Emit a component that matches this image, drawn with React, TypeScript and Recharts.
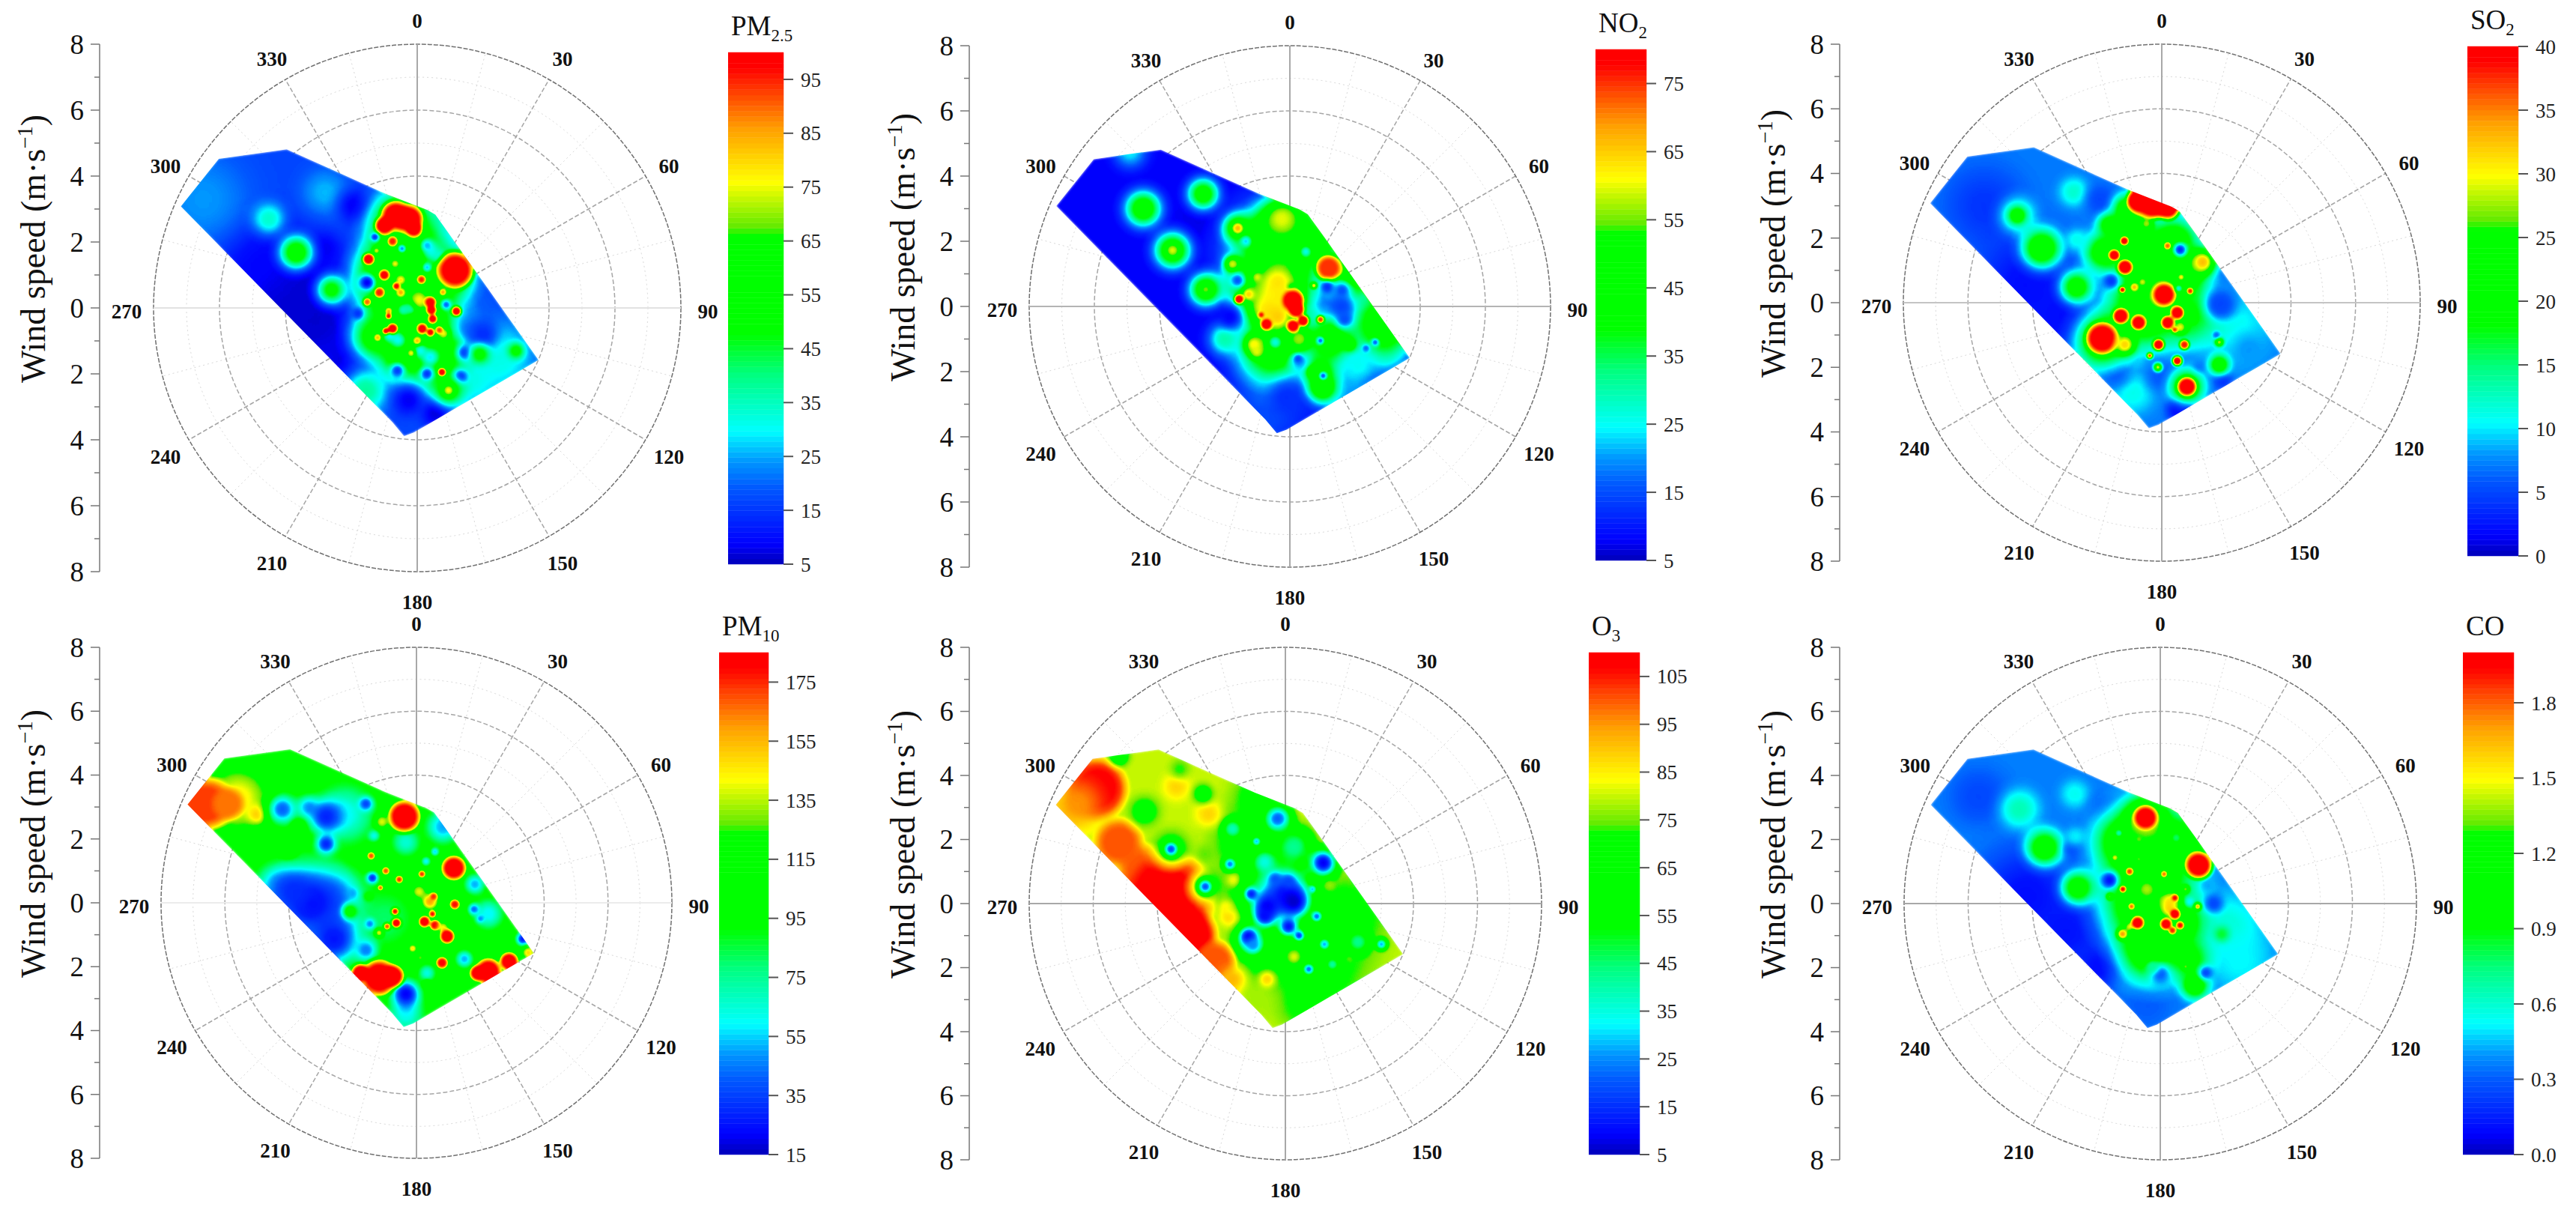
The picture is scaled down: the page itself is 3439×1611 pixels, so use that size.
import { Bar, BarChart, Line, LineChart, PolarAngleAxis, PolarGrid, PolarRadiusAxis, Radar, RadarChart, XAxis, YAxis } from "recharts";

type Cell = [number, number, number, number]; // east m/s, north m/s, concentration, reach m/s

const SERIF = '"Liberation Serif", "Times New Roman", serif';

const ANGLE_TICKS = [0, 30, 60, 90, 120, 150, 180, 210, 240, 270, 300, 330];
const SPEED_TICKS = [-8, -7, -6, -5, -4, -3, -2, -1, 0, 1, 2, 3, 4, 5, 6, 7, 8];
const MAJOR_RINGS = [2, 4, 6];
const MINOR_RINGS = [1, 3, 5, 7];
const MINOR_SPOKES = [15, 45, 75, 105, 135, 165, 195, 225, 255, 285, 315, 345];

// footprint of the sampled wind sectors, m/s
const EDGE_EAST = [-7.17, -6.02, -3.96, -0.95, 0.31, 0.55, 1.16, 3.68, -0.1, -0.4, -0.75];
const EDGE_NORTH = [3.08, 4.52, 4.81, 3.46, 2.97, 2.83, 1.98, -1.58, -3.78, -3.89, -3.47];

const COLOR_STOPS: [number, number, number, number][] = [
  [0, 0, 0, 185], [0.04, 0, 0, 255], [0.15, 0, 90, 255], [0.2, 0, 150, 255], [0.26, 0, 255, 255],
  [0.37, 0, 255, 128], [0.45, 0, 255, 0], [0.64, 0, 255, 0], [0.66, 100, 235, 0], [0.746, 255, 255, 0],
  [0.85, 255, 160, 0], [0.97, 255, 0, 0], [1, 255, 0, 0],
];

const PM25_TICKS = [5, 15, 25, 35, 45, 55, 65, 75, 85, 95];
const NO2_TICKS = [5, 15, 25, 35, 45, 55, 65, 75];
const SO2_TICKS = [0, 5, 10, 15, 20, 25, 30, 35, 40];
const PM10_TICKS = [15, 35, 55, 75, 95, 115, 135, 155, 175];
const O3_TICKS = [5, 15, 25, 35, 45, 55, 65, 75, 85, 95, 105];
const CO_TICKS = [0, 0.3, 0.6, 0.9, 1.2, 1.5, 1.8];

const PM25_CELLS: Cell[] = [
  [-3.9, 0.6, 6, 1.8], [-3.1, -0.4, 6, 1.5], [-2, -1.7, 7, 1.1], [-4.9, 1.5, 9, 1.1], [-6.5, 3.3, 24, 1.4],
  [-2.8, 3.5, 26, 0.7], [-4.5, 2.7, 34, 0.5], [-1.9, 3.1, 8, 0.5], [-2.8, 1.8, 8, 0.45],
  [2.5, -1.5, 32, 1.1], [1.6, -2.2, 32, 0.8], [0.2, -2.3, 30, 0.8], [-1.56, -2.5, 38, 0.7], [1.5, 0.1, 20, 0.8], [0.6, 2.6, 22, 0.6],
  [-0.2, 1.5, 62, 1.2], [-0.4, 0.3, 62, 1.3], [0.2, -0.8, 62, 1.1], [-0.9, 1, 60, 0.9], [-1.3, -0.9, 55, 0.7],
  [0.6, -1.6, 58, 0.7], [-0.5, -1.5, 55, 0.65], [1, 1, 58, 0.7], [0.7, 0.4, 50, 0.45], [1, -1.2, 50, 0.45],
  [-0.42, -0.06, 35, 0.2], [-0.58, -0.97, 30, 0.22], [-0.83, -0.82, 28, 0.2], [0.39, -1.5, 28, 0.28], [1.45, -1.35, 15, 0.25], [1.6, -0.6, 22, 0.45], [0.45, 1.7, 30, 0.3], [0.7, 1.55, 32, 0.2],
  [2, -0.8, 14, 0.45], [3, -1.3, 52, 0.25], [1.9, -1.4, 52, 0.3], [0.55, -3.2, 7, 0.45],
  [-0.26, -2.8, 8, 0.5], [1.3, -2.1, 9, 0.22], [0.3, -2, 14, 0.22], [-0.6, -1.9, 15, 0.22], [0.95, -2.5, 55, 0.45], [0.95, -2.5, 78, 0.16], [0.75, -1.95, 100, 0.14],
  [-2.6, 0.55, 52, 0.45], [-3.67, 1.68, 58, 0.5],
  [-0.5, 2.6, 62, 0.9], [-0.65, 2.8, 100, 0.5], [-0.25, 2.7, 100, 0.48], [-1, 2.5, 100, 0.32], [-0.1, 2.4, 100, 0.28],
  [1.16, 1.15, 100, 0.62],
  [-1.28, 2.15, 12, 0.13], [-0.46, 1.8, 20, 0.13], [0.3, 1.9, 25, 0.2], [0.3, 1.23, 25, 0.15], [0.88, 0.1, 18, 0.15], [-0.2, 0, 35, 0.2], [0.1, -1.3, 30, 0.2],
  [-1.52, 0.77, 7, 0.25], [-1.8, -0.17, 14, 0.18],
  [-0.75, 2.02, 95, 0.16], [-1.24, 1.74, 78, 0.1], [-1.48, 1.48, 100, 0.2], [-0.67, 1.34, 78, 0.1], [-1, 1, 100, 0.17],
  [-0.5, 0.85, 80, 0.13], [-0.63, 0.66, 100, 0.12], [0.13, 0.86, 95, 0.14], [-0.5, 0.47, 88, 0.12], [-1.15, 0.47, 95, 0.17],
  [-1.52, 0.18, 90, 0.14], [-0.87, -0.1, 88, 0.1], [-0.87, -0.25, 100, 0.1], [-0.75, -0.63, 100, 0.18], [-0.95, -0.7, 100, 0.12],
  [-1.2, -0.9, 85, 0.12], [0, -1, 85, 0.12], [-0.18, -1.37, 78, 0.12], [1.19, -0.1, 100, 0.17], [0.78, 0.48, 88, 0.12],
  [0.07, 0.24, 76, 0.25], [0.8, -0.78, 76, 0.17], [0.4, 0.17, 98, 0.2], [0.43, -0.06, 100, 0.17], [0.47, -0.33, 100, 0.15],
  [0.15, -0.63, 100, 0.17], [0.4, -0.74, 100, 0.13], [0.67, -0.67, 92, 0.12],
];

const NO2_CELLS: Cell[] = [
  [-4.9, 4.75, 24, 0.5], [-0.7, -3.2, 15, 1.2], [1.7, -2.4, 21, 1], [2.9, -1.5, 21, 0.7], [-2.8, 2.75, 7, 0.6], [-2, 2.6, 8, 0.4],
  [2.9, -0.5, 51, 1], [1.85, 1, 51, 0.8], [-0.37, 1.68, 50, 1.4], [-0.53, -1.25, 50, 1.1], [1.27, -1, 48, 0.8], [-1.2, 0.7, 42, 0.8],
  [0.8, 1.9, 48, 0.6], [-0.6, 2.2, 48, 0.7], [0.9, -2, 45, 0.5], [-0.1, 2.6, 50, 0.8],
  [-0.37, 0.3, 62, 1], [-2, -1, 30, 0.5], [2.1, -1.8, 25, 0.5], [-0.1, -2.8, 12, 0.55], [0.3, -1.7, 20, 0.3],
  [-4.5, 3, 48, 0.55], [-2.66, 3.45, 46, 0.48], [-1.6, 2.4, 48, 0.45], [-1.6, 2.4, 68, 0.17], [-0.25, 2.68, 60, 0.45],
  [-3.6, 1.72, 50, 0.55], [-3.6, 1.72, 60, 0.17], [-1.76, 1.3, 60, 0.25], [-2.58, 0.52, 49, 0.5], [-2.58, 0.52, 56, 0.13],
  [1.19, 1.18, 75, 0.45], [-1.6, 0.8, 15, 0.25], [-1.84, -0.32, 8, 0.35], [1.6, 0, 14, 0.35], [1.6, 0.5, 15, 0.3], [1.68, -0.4, 15, 0.28],
  [1, -2.5, 50, 0.45], [0.7, -2, 48, 0.18], [1.84, -1.17, 46, 0.22], [-1.1, -1.17, 62, 0.3], [-1.02, -1.4, 60, 0.2], [0.29, -1, 57, 0.35], [-0.45, -1.1, 26, 0.22],
  [-0.37, 0.75, 63, 0.4], [-0.7, -0.1, 63, 0.45], [-0.37, -0.32, 65, 0.35], [-1.27, 0.37, 65, 0.18], [0.05, 0.6, 50, 0.13], [-1, 0.9, 60, 0.13],
  [0.1, 0.18, 80, 0.38], [0.2, -0.1, 80, 0.28], [0.41, -0.44, 80, 0.2], [0.1, -0.6, 80, 0.22], [-0.72, -0.55, 80, 0.2], [-0.88, -0.26, 78, 0.1],
  [-1.56, 0.22, 80, 0.17], [0.94, -0.4, 75, 0.13], [0.74, 0.64, 70, 0.09],
  [0.49, 1.68, 25, 0.17], [0.94, -1.05, 14, 0.12], [2.62, -1.1, 14, 0.12], [2.34, -1.28, 16, 0.12], [0.25, -1.6, 14, 0.13], [1.02, -2.13, 13, 0.13], [-1.35, 2, 22, 0.17], [1.15, 0.6, 12, 0.2],
];

const SO2_CELLS: Cell[] = [
  [-5.5, 3, 4, 1.2], [-4.2, 0.56, 2, 1.6], [-3.1, -0.45, 2, 1.2], [2.27, -0.84, 11, 1.1], [2.7, -1.46, 8, 0.6], [-0.9, -2.77, 11, 0.7], [-1.47, -2.08, 4, 0.5],
  [-0.14, 1.18, 25, 1.2], [-0.47, -0.22, 25, 1.1], [0.78, -0.37, 19, 0.9], [0.4, 1.9, 22, 0.6], [0.8, 0.9, 22, 0.6], [-1.8, 1.57, 22, 0.6], [-1, 2.2, 22, 0.6],
  [1.86, -0.06, 6, 0.45], [-0.06, -2.3, 6, 0.45], [0.7, -3.4, 2, 0.4], [-2.72, 3.43, 12, 0.45], [-4.47, 2.7, 14, 0.55], [-4.47, 2.7, 22, 0.25], [-3.72, 1.68, 24, 0.6],
  [-2.64, 1.95, 11, 0.35], [-2.64, 0.48, 22, 0.5], [-1.9, 3.2, 5, 0.45], [-1.64, 2.42, 21, 0.35],
  [-1.06, 2.9, 23, 0.45], [-0.47, 2.45, 28, 0.2], [-0.47, 3.2, 40, 0.62], [0.19, 2.95, 40, 0.42], [-0.2, 3.05, 40, 0.5], [-0.75, 3.15, 40, 0.36],
  [1.27, 1.26, 33, 0.38], [0.57, 1.64, 3, 0.22], [-1.56, 0.67, 4, 0.25], [1.8, -0.05, 5, 0.4], [1.1, -2.08, 5, 0.18], [1.9, -2.43, 4, 0.28], [0.52, -3.3, 2, 0.35],
  [-1.8, -1.15, 24, 0.85], [0.78, -2.6, 24, 0.5], [1.78, -1.92, 23, 0.3],
  [0.18, 1.76, 36, 0.12], [-1.16, 1.91, 40, 0.15], [-1.47, 1.47, 40, 0.2], [-1.14, 1.1, 40, 0.27], [-1.22, 0.4, 40, 0.11], [-0.85, 0.48, 34, 0.13],
  [-0.6, 0.64, 30, 0.1], [0.6, 0.79, 32, 0.09], [0.88, 0.36, 38, 0.12], [0.07, 0.25, 30, 0.45], [0.07, 0.25, 40, 0.38], [0.52, 0.44, 10, 0.11],
  [-1.27, -0.41, 40, 0.28], [-0.72, -0.62, 40, 0.26], [0.19, -0.62, 40, 0.24], [0.48, -0.31, 40, 0.24], [0.57, -0.76, 30, 0.2], [0.4, -0.84, 38, 0.1], [0.98, -0.53, 26, 0.1],
  [-1.85, -1.1, 40, 0.55], [-1.14, -1.3, 32, 0.3], [-0.1, -1.3, 40, 0.2], [0.7, -1.3, 38, 0.17], [-0.37, -1.64, 38, 0.1], [0.48, -1.8, 40, 0.17],
  [-0.12, -2, 32, 0.12], [0.78, -2.6, 40, 0.33], [1.78, -1.22, 30, 0.13], [1.69, -1, 6, 0.12],
];

const PM10_CELLS: Cell[] = [
  [-5.6, 3.25, 145, 1], [-6.6, 3.1, 172, 0.9], [-5.9, 3.1, 165, 0.55], [-5, 2.77, 150, 0.3],
  [-2.25, 2.77, 60, 0.9], [-4.2, 2.93, 40, 0.45], [-3.4, 3, 50, 0.35], [-2.83, 2.7, 28, 0.5], [-2.83, 1.84, 28, 0.3], [-1.58, 3.1, 35, 0.22],
  [-3.7, 2.38, 110, 0.22], [-4, 1.64, 128, 0.25],
  [-4.4, 0.6, 60, 0.6], [-2.42, 0.2, 60, 0.8], [-1, -0.5, 80, 0.9], [-3.33, 0, 22, 1.2], [-3.83, 0.35, 30, 0.6], [-2.58, -1.13, 25, 0.8], [-1.58, -1.48, 45, 0.35],
  [1.83, 0.58, 50, 0.3], [2.25, -0.35, 58, 0.45], [1.8, -0.2, 40, 0.17], [2, -0.5, 45, 0.12], [0.83, 2.38, 50, 0.5], [3.33, -1.13, 25, 0.2], [1.5, -1.76, 50, 0.25],
  [-0.33, -3.48, 60, 0.55], [-0.33, -2.85, 20, 0.42], [0.33, -2.2, 62, 0.25],
  [-0.33, 1.9, 65, 0.42], [0.58, 1.6, 50, 0.12], [-1.33, 2.1, 60, 0.17], [0.3, 1.3, 55, 0.13], [-1.38, 0.78, 28, 0.18], [-2, 0.3, 50, 0.17], [-1.46, -0.66, 45, 0.17], [-1.5, 0.2, 100, 0.15], [-2.08, -0.27, 105, 0.25],
  [-0.38, 2.7, 185, 0.55], [-1.08, 2.54, 140, 0.22], [1.17, 1.09, 185, 0.42],
  [-1.17, -2.34, 185, 0.62], [-1.75, -2.2, 185, 0.32], [-0.75, -2.3, 185, 0.4], [2.25, -2.15, 185, 0.45], [2.9, -1.84, 185, 0.32], [3.5, -1.56, 150, 0.18], [1.92, -2.2, 185, 0.28],
  [0.8, -1.88, 180, 0.2], [-0.12, -1.43, 150, 0.13], [0.12, -1.72, 130, 0.12], [0.33, -2.54, 125, 0.12],
  [-1.42, 1.47, 170, 0.13], [-0.96, 1, 170, 0.13], [-0.54, 0.73, 175, 0.13], [0.17, 0.9, 175, 0.12], [-1.13, 0.47, 170, 0.1], [-0.67, -0.27, 180, 0.13],
  [-0.63, -0.63, 185, 0.17], [-0.92, -0.74, 170, 0.12], [-1.17, -0.94, 145, 0.13], [0.08, 0.35, 140, 0.22], [0.42, 0.04, 160, 0.25], [0.25, -0.59, 185, 0.2],
  [0.58, -0.7, 180, 0.18], [0.54, 0.2, 175, 0.13], [0.5, -0.35, 180, 0.12], [0.83, -0.78, 145, 0.17], [0.96, -1.05, 185, 0.25], [1.2, -0.05, 178, 0.17],
];

const O3_CELLS: Cell[] = [
  [1.85, -0.4, 68, 1.3], [1, -2, 68, 1.5], [-0.73, -1.58, 68, 1], [-1.23, 1.94, 66, 1], [-0.82, 3.34, 68, 0.8], [0.6, -3.1, 70, 0.8], [-0.5, 0.4, 68, 1.3],
  [-5.9, 3.58, 108, 1], [-6.5, 3.1, 95, 0.8], [-5.2, 1.9, 100, 0.8], [-4.4, 1, 100, 0.9], [-3.57, 0.22, 110, 1.4], [-3, -1, 110, 0.9], [-2.2, -1.8, 100, 0.7], [-1.65, -2.4, 92, 0.45],
  [-3.4, 3.65, 88, 0.4], [-2.4, 2.8, 88, 0.4], [-3.3, 4.2, 72, 0.3], [-5.2, 4.6, 60, 0.3], [-0.82, -3, 78, 0.6], [-0.57, -2.36, 88, 0.25],
  [-2.57, 3.42, 64, 0.3], [-4.4, 2.88, 66, 0.45], [-3.57, 1.7, 66, 0.55], [-3.57, 1.7, 17, 0.22], [-2.5, 0.53, 66, 0.5], [-2.5, 0.53, 18, 0.22],
  [-2.5, 1.55, 74, 0.3], [-1.73, 1.23, 22, 0.2], [-1.6, 0.73, 86, 0.22], [-1.73, -0.4, 88, 0.32], [-1.82, -0.1, 85, 0.22],
  [-1.65, 2.33, 38, 0.3], [-0.23, 2.64, 20, 0.42], [0.27, 1.78, 42, 0.6], [-0.9, 1.94, 25, 0.13], [-0.65, 1.3, 35, 0.35], [0.6, 1, 62, 0.2], [1.18, 1.27, 7, 0.42],
  [3, -1.27, 25, 0.17], [2.27, -1.2, 42, 0.35], [1.35, 0.57, 78, 0.18], [0.27, -1.66, 82, 0.18], [2, -1.73, 74, 0.12], [0.73, -2.05, 20, 0.17], [1.47, -1.9, 40, 0.2], [1.22, -1.27, 25, 0.17],
  [-0.23, 0.22, 33, 1], [0, 0.3, 12, 0.62], [0.27, 0.06, 6, 0.42], [-0.57, -0.1, 8, 0.4], [-0.65, -0.4, 10, 0.3], [0.1, -0.72, 10, 0.28], [0.43, -1, 14, 0.17], [-1.07, 0.3, 12, 0.2],
  [-0.32, 0.77, 20, 0.22], [0.1, 0.69, 18, 0.22], [-1.1, -1.15, 32, 0.45], [-1.15, -1.03, 8, 0.25], [-1, -1.3, 25, 0.25], [0.98, -0.4, 20, 0.17], [0.85, 0.45, 25, 0.11],
];

const CO_CELLS: Cell[] = [
  [-5.67, 3.34, 0.25, 0.9], [-4.17, 0.22, 0.1, 1.5], [-2.92, -0.87, 0.12, 1.2], [-1.92, -1.97, 0.1, 0.7],
  [-4.4, 2.95, 0.65, 0.6], [-2.67, 3.42, 0.54, 0.45], [-3.62, 1.74, 1.15, 0.55], [-2.58, 0.49, 1.12, 0.5], [-2.75, 1.7, 0.28, 0.3], [-1.75, 3, 0.3, 0.45], [-2.67, 2.1, 0.5, 0.3],
  [2.08, -0.8, 0.6, 1.1], [2.5, -1.8, 0.52, 1], [-0.42, -3.14, 0.3, 0.8],
  [-0.25, 1.7, 1.22, 1.4], [-0.42, 0, 1.22, 1.3], [-0.25, -1.42, 1.2, 1], [0.92, -1.73, 1, 0.6], [-1.08, 1.94, 1.18, 0.8], [0.83, 1.94, 1.15, 0.6], [0.6, -0.6, 1.15, 0.7],
  [1.67, 0, 0.25, 0.3], [1.5, 0.57, 0.42, 0.22], [0.92, 0.06, 0.5, 0.17], [1.92, -0.95, 0.85, 0.25],
  [0, -2.2, 0.3, 0.35], [1.08, -2.55, 1.18, 0.42], [1.42, -2.16, 0.25, 0.22], [-0.25, -1.97, 0.7, 0.22], [0.79, -1.97, 1.4, 0.1], [-1.58, 0.73, 0.1, 0.27],
  [-0.46, 2.68, 1.5, 0.6], [-0.46, 2.68, 2, 0.4], [1.2, 1.2, 2, 0.48],
  [-0.42, 0.45, 1.4, 0.22], [0.29, 0.06, 1.55, 0.3], [0.29, -0.17, 1.6, 0.22], [0.08, 0.49, 1.05, 0.17], [-0.96, -0.72, 1.5, 0.13],
  [-0.71, -0.6, 2, 0.22], [-1.18, -0.95, 1.75, 0.17], [0.18, -0.64, 2, 0.2], [0.46, -0.33, 2, 0.18], [0.62, -0.68, 1.95, 0.13], [0.38, -0.84, 1.9, 0.13], [0.46, 0.18, 1.95, 0.12],
  [-1.17, 0.45, 1.95, 0.12], [-0.96, 1, 1.85, 0.13], [-0.9, -0.09, 1.8, 0.1], [0.12, 0.92, 1.8, 0.1], [-1.42, 1.43, 1.55, 0.1], [-1.58, 0.22, 1.4, 0.1], [1.17, -0.09, 1.75, 0.11],
  [0.79, 0.45, 1.4, 0.12], [-0.67, 2, 1.35, 0.08], [-0.67, 1.39, 1.35, 0.08], [-1.29, 2.2, 0.6, 0.12], [0.5, 2.05, 0.75, 0.17],
];

type PanelSpec = {
  id: string;
  name: string;
  sub?: string;
  min: number;
  max: number;
  base: number;
  ticks: number[];
  digits: number;
  cells: Cell[];
  cx: number;
  cy: number;
  r: number;
  axisX: number;
  barX: number;
  barW: number;
  barTop: number;
  barBottom: number;
  crossStroke: string;
};

const PANELS: PanelSpec[] = [
  { id: "pm25", name: "PM", sub: "2.5", min: 5, max: 100, base: 17, ticks: PM25_TICKS, digits: 0, cells: PM25_CELLS, cx: 557, cy: 411, r: 352, axisX: 133, barX: 972, barW: 74, barTop: 70, barBottom: 753, crossStroke: "#e2e2e2" },
  { id: "no2", name: "NO", sub: "2", min: 5, max: 80, base: 8, ticks: NO2_TICKS, digits: 0, cells: NO2_CELLS, cx: 1722, cy: 409, r: 348, axisX: 1294, barX: 2130, barW: 68, barTop: 66, barBottom: 748, crossStroke: "#b4b4b4" },
  { id: "so2", name: "SO", sub: "2", min: 0, max: 40, base: 7, ticks: SO2_TICKS, digits: 0, cells: SO2_CELLS, cx: 2886, cy: 404, r: 345, axisX: 2456, barX: 3294, barW: 68, barTop: 62, barBottom: 742, crossStroke: "#c4c4c4" },
  { id: "pm10", name: "PM", sub: "10", min: 15, max: 185, base: 100, ticks: PM10_TICKS, digits: 0, cells: PM10_CELLS, cx: 556, cy: 1205, r: 341, axisX: 133, barX: 960, barW: 66, barTop: 871, barBottom: 1541, crossStroke: "#ececec" },
  { id: "o3", name: "O", sub: "3", min: 5, max: 110, base: 80, ticks: O3_TICKS, digits: 0, cells: O3_CELLS, cx: 1716, cy: 1206, r: 342, axisX: 1294, barX: 2121, barW: 68, barTop: 871, barBottom: 1541, crossStroke: "#a8a8a8" },
  { id: "co", name: "CO", min: 0, max: 2, base: 0.36, ticks: CO_TICKS, digits: 1, cells: CO_CELLS, cx: 2884, cy: 1206, r: 342, axisX: 2456, barX: 3288, barW: 68, barTop: 871, barBottom: 1541, crossStroke: "#a8a8a8" },
];

const BAND_COUNT = 96;

function colorChannels(f: number): number[] {
  for (let i = 1; i < COLOR_STOPS.length; i++) {
    const [f1, r1, g1, b1] = COLOR_STOPS[i];
    const [f0, r0, g0, b0] = COLOR_STOPS[i - 1];
    if (f <= f1) {
      const t = (f - f0) / (f1 - f0);
      return [r0 + (r1 - r0) * t, g0 + (g1 - g0) * t, b0 + (b1 - b0) * t];
    }
  }
  return [255, 0, 0];
}

function tableFor(channel: number): string {
  const out: string[] = [];
  for (let i = 0; i < 128; i++) {
    out.push((colorChannels(i / 127)[channel] / 255).toFixed(3));
  }
  return out.join(" ");
}

function toPolar(east: number, north: number) {
  const angle = (Math.atan2(east, north) * 180) / Math.PI;
  return { angle: angle < 0 ? angle + 360 : angle, speed: Math.hypot(east, north) };
}

function fractionOf(panel: PanelSpec, value: number): number {
  return Math.max(0, Math.min(1, (value - panel.min) / (panel.max - panel.min)));
}

function grayOf(panel: PanelSpec, value: number): string {
  const g = Math.round(fractionOf(panel, value) * 255);
  return `rgb(${g},${g},${g})`;
}

const HOT_FALLOFF = [[0, 1], [0.5, 1], [0.68, 0.8], [0.82, 0.42], [0.93, 0.1], [1, 0]];
const SOFT_FALLOFF = [[0, 1], [0.2, 0.93], [0.4, 0.64], [0.6, 0.3], [0.8, 0.08], [1, 0]];

// the field is painted in gray levels, the filter maps levels onto the colour scale
function renderField(panel: PanelSpec, chartW: number, chartH: number) {
  return (props: any) => {
    const points = (props.points as any[]).filter((p) => Number.isFinite(p.x));
    const edge = points.filter((p) => p.payload.kind === "edge");
    const cells = points.filter((p) => p.payload.kind === "cell");
    const edgePath = edge.map((p) => `${p.x},${p.y}`).join(" ");
    return (
      <g clipPath={`url(#${panel.id}-clip)`}>
        <defs>
          <clipPath id={`${panel.id}-clip`}>
            <polygon points={edgePath} />
          </clipPath>
          <filter id={`${panel.id}-map`} filterUnits="userSpaceOnUse" x={0} y={0} width={chartW} height={chartH} colorInterpolationFilters="sRGB">
            <feGaussianBlur stdDeviation={1.6} />
            <feComponentTransfer>
              <feFuncR type="table" tableValues={tableFor(0)} />
              <feFuncG type="table" tableValues={tableFor(1)} />
              <feFuncB type="table" tableValues={tableFor(2)} />
            </feComponentTransfer>
          </filter>
          {cells.map((p, i) => {
            const gray = grayOf(panel, p.payload.level);
            const falloff = fractionOf(panel, p.payload.level) >= 0.88 ? HOT_FALLOFF : SOFT_FALLOFF;
            return (
              <radialGradient key={i} id={`${panel.id}-g${i}`}>
                {falloff.map(([offset, alpha]) => (
                  <stop key={offset} offset={offset} stopColor={gray} stopOpacity={alpha} />
                ))}
              </radialGradient>
            );
          })}
        </defs>
        <g filter={`url(#${panel.id}-map)`}>
          <polygon points={edgePath} fill={grayOf(panel, panel.base)} />
          {cells.map((p, i) => {
            const spread = fractionOf(panel, p.payload.level) >= 0.88 ? 1.1 : 1.75;
            return <circle key={i} cx={p.x} cy={p.y} r={(p.radius / p.value) * p.payload.reach * spread} fill={`url(#${panel.id}-g${i})`} />;
          })}
        </g>
      </g>
    );
  };
}

function AngleTick(props: any) {
  return (
    <text x={props.x} y={props.y} dy="0.5em" textAnchor="middle" fontFamily={SERIF} fontWeight="bold" fontSize={27} fill="#111">
      {props.payload.value}
    </text>
  );
}

function SpeedTick(props: any) {
  const value = props.payload.value;
  const major = value % 2 === 0;
  return (
    <g>
      <line x1={props.x - (major ? 12 : 7)} x2={props.x} y1={props.y} y2={props.y} stroke="#777" strokeWidth={1.5} />
      {major ? (
        <text x={props.x - 21} y={props.y} dy="0.35em" textAnchor="end" fontFamily={SERIF} fontSize={37} fill="#111">
          {Math.abs(value)}
        </text>
      ) : null}
    </g>
  );
}

function PolarField({ panel }: { panel: PanelSpec }) {
  const pad = 60;
  const size = (panel.r + pad) * 2;
  const rows = [
    ...EDGE_EAST.map((east, i) => ({ ...toPolar(east, EDGE_NORTH[i]), kind: "edge" })),
    ...panel.cells.map(([east, north, level, reach]) => ({ ...toPolar(east, north), level, reach, kind: "cell" })),
  ];
  const unit = panel.r / 8;
  return (
    <div style={{ position: "absolute", left: panel.cx - panel.r - pad, top: panel.cy - panel.r - pad }}>
      <RadarChart width={size} height={size} cx={panel.r + pad} cy={panel.r + pad} outerRadius={panel.r} data={rows} margin={{ top: 0, right: 0, bottom: 0, left: 0 }}>
        <PolarGrid gridType="circle" polarAngles={MINOR_SPOKES} polarRadius={MINOR_RINGS.map((s) => s * unit)} stroke="#d8d8d8" strokeDasharray="2 4" />
        <PolarGrid gridType="circle" polarAngles={ANGLE_TICKS.filter((a) => a % 90 !== 0)} polarRadius={MAJOR_RINGS.map((s) => s * unit)} stroke="#a6a6a6" strokeWidth={1.5} strokeDasharray="6 3" />
        <PolarGrid gridType="circle" radialLines={false} polarAngles={[]} polarRadius={[8 * unit]} stroke="#707070" strokeWidth={1.5} strokeDasharray="6 2" />
        <PolarGrid gridType="circle" polarAngles={[0, 180]} polarRadius={[]} stroke={panel.crossStroke} strokeWidth={2} />
        <PolarGrid gridType="circle" polarAngles={[90, 270]} polarRadius={[]} stroke="#a8a8a8" strokeWidth={2} />
        <PolarAngleAxis dataKey="angle" type="number" domain={[0, 360]} ticks={ANGLE_TICKS} tickSize={36} tickLine={false} axisLine={false} tick={<AngleTick />} />
        <PolarRadiusAxis type="number" domain={[0, 8]} tick={false} axisLine={false} />
        <Radar dataKey="speed" isAnimationActive={false} dot={false} shape={renderField(panel, size, size)} />
      </RadarChart>
    </div>
  );
}

function SpeedAxis({ panel }: { panel: PanelSpec }) {
  const rows = [{ speed: -8 }, { speed: 8 }];
  return (
    <div style={{ position: "absolute", left: panel.axisX - 70, top: panel.cy - panel.r - 24 }}>
      <LineChart width={80} height={panel.r * 2 + 48} data={rows} margin={{ top: 24, right: 10, bottom: 24, left: 0 }}>
        <XAxis hide />
        <YAxis width={70} type="number" domain={[-8, 8]} ticks={SPEED_TICKS} interval={0} tickSize={0} tickMargin={0} tickLine={false} axisLine={{ stroke: "#777", strokeWidth: 1.5 }} tick={<SpeedTick />} />
        <Line dataKey="speed" stroke="none" dot={false} isAnimationActive={false} />
      </LineChart>
    </div>
  );
}

function ColorBar({ panel }: { panel: PanelSpec }) {
  const step = (panel.max - panel.min) / BAND_COUNT;
  const row: Record<string, number | string> = { name: panel.id };
  const bands = Array.from({ length: BAND_COUNT }, (_, i) => `band${i}`);
  bands.forEach((key) => {
    row[key] = step;
  });
  return (
    <div style={{ position: "absolute", left: panel.barX, top: panel.barTop - 24 }}>
      <BarChart width={panel.barW + 90} height={panel.barBottom - panel.barTop + 48} data={[row]} barCategoryGap={0} margin={{ top: 24, right: 0, bottom: 24, left: 0 }}>
        <XAxis dataKey="name" hide />
        <YAxis
          orientation="right"
          width={90}
          type="number"
          domain={[0, panel.max - panel.min]}
          ticks={panel.ticks.map((t) => t - panel.min)}
          interval={0}
          tickFormatter={(v: number) => (v + panel.min).toFixed(panel.digits)}
          tickSize={13}
          tickMargin={10}
          axisLine={false}
          tickLine={{ stroke: "#555", strokeWidth: 2 }}
          tick={{ fontFamily: SERIF, fontSize: 27, fill: "#222" }}
        />
        {bands.map((key, i) => {
          const [r, g, b] = colorChannels((i + 0.5) / BAND_COUNT);
          const fill = `rgb(${Math.round(r)},${Math.round(g)},${Math.round(b)})`;
          return <Bar key={key} dataKey={key} stackId="scale" fill={fill} stroke={fill} strokeWidth={0.5} isAnimationActive={false} />;
        })}
      </BarChart>
    </div>
  );
}

function Panel({ panel }: { panel: PanelSpec }) {
  return (
    <>
      <PolarField panel={panel} />
      <SpeedAxis panel={panel} />
      <ColorBar panel={panel} />
      <div style={{ position: "absolute", left: panel.axisX - 89, top: panel.cy - 79, transform: "translate(-50%, -50%) rotate(-90deg)", whiteSpace: "nowrap", fontFamily: SERIF, fontSize: 46, color: "#111" }}>
        Wind speed (m·s<sup style={{ fontSize: "62%", lineHeight: 0 }}>−1</sup>)
      </div>
      <div style={{ position: "absolute", left: panel.barX + 4, top: panel.barTop - 57, whiteSpace: "nowrap", fontFamily: SERIF, fontSize: 37, lineHeight: "44px", color: "#111" }}>
        {panel.name}
        {panel.sub ? <sub style={{ fontSize: "62%", lineHeight: 0 }}>{panel.sub}</sub> : null}
      </div>
    </>
  );
}

export default function App() {
  return (
    <div style={{ position: "absolute", left: 0, top: 0, width: 3439, height: 1611, background: "#fff", overflow: "hidden" }}>
      {PANELS.map((panel) => (
        <Panel key={panel.id} panel={panel} />
      ))}
    </div>
  );
}
